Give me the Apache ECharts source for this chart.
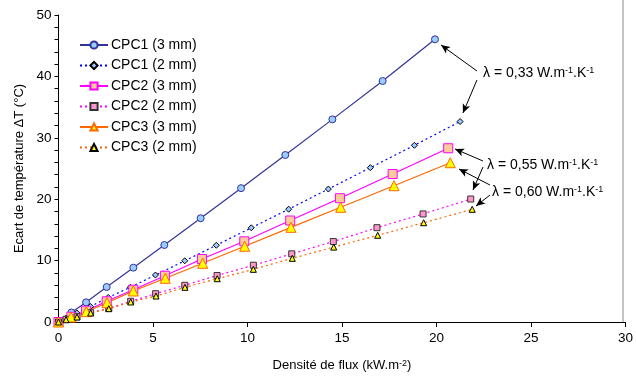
<!DOCTYPE html>
<html>
<head>
<meta charset="utf-8">
<script src="https://cdn.jsdelivr.net/npm/echarts@6/dist/echarts.min.js"></script>
<style>
  html, body { margin: 0; padding: 0; background: #fff; }
  #chart { width: 636px; height: 378px; }
</style>
</head>
<body>
<div id="chart"></div>
<script>
// flux density (kW.m-2) and temperature difference (°C)
const cpc1_3mm_x = [0, 0.68, 1.46, 2.55, 3.96, 5.6, 7.52, 9.66, 12.0, 14.49, 17.15, 19.92];
const cpc1_3mm_y = [0, 1.55, 3.2, 5.7, 8.85, 12.54, 16.9, 21.8, 27.2, 33.0, 39.25, 46.04];
const cpc1_2mm_x = [0, 0.41, 0.97, 1.69, 2.63, 3.8, 5.13, 6.68, 8.35, 10.2, 12.18, 14.28, 16.5, 18.83, 21.25];
const cpc1_2mm_y = [0, 0.65, 1.47, 2.52, 4.0, 5.65, 7.65, 9.97, 12.5, 15.34, 18.37, 21.66, 25.13, 28.78, 32.65];
const cpc2_3mm_x = [0, 0.68, 1.46, 2.55, 3.96, 5.63, 7.59, 9.83, 12.26, 14.89, 17.68, 20.62];
const cpc2_3mm_y = [0, 0.86, 1.84, 3.37, 5.26, 7.54, 10.26, 13.14, 16.53, 20.16, 24.1, 28.3];
const cpc2_2mm_x = [0, 0.4, 0.98, 1.7, 2.66, 3.82, 5.14, 6.68, 8.39, 10.31, 12.34, 14.54, 16.85, 19.29, 21.81];
const cpc2_2mm_y = [0, 0.44, 0.86, 1.51, 2.23, 3.37, 4.61, 5.98, 7.57, 9.25, 11.1, 13.1, 15.36, 17.6, 20.03];
const cpc3_3mm_x = [0, 0.66, 1.47, 2.57, 3.96, 5.65, 7.63, 9.85, 12.3, 14.93, 17.75, 20.73];
const cpc3_3mm_y = [0, 0.81, 1.68, 3.14, 5.05, 7.12, 9.56, 12.33, 15.42, 18.68, 22.2, 25.94];
const cpc3_2mm_x = [0, 0.4, 0.98, 1.7, 2.66, 3.82, 5.16, 6.69, 8.4, 10.31, 12.37, 14.56, 16.89, 19.32, 21.89];
const cpc3_2mm_y = [0, 0.37, 0.81, 1.47, 2.17, 3.26, 4.23, 5.65, 7.05, 8.58, 10.37, 12.2, 14.12, 16.17, 18.35];

const seriesNames = ['CPC1 (3 mm)', 'CPC1 (2 mm)', 'CPC2 (3 mm)', 'CPC2 (2 mm)', 'CPC3 (3 mm)', 'CPC3 (2 mm)'];

// annotation arrows, in data units: [from, to]
const arrows = [
  [[22.14, 40.88], [20.24, 45.11]],
  [[22.14, 39.41], [21.4, 34.04]],
  [[22.46, 26.22], [20.98, 28.18]],
  [[22.46, 25.24], [21.93, 21.5]],
  [[22.83, 22.31], [21.19, 24.92]],
  [[22.83, 20.68], [22.09, 18.89]]
];
const lambdaLabels = ['0,33', '0,55', '0,60'];

const FONT = 'Liberation Sans, Arial, sans-serif';

function pts(xs, ys) {
  return xs.map((x, i) => [x, ys[i]]);
}

function lambdaText(v) {
  return {
    text: 'λ = ' + v + ' W.m{s|-1}.K{s|-1}',
    fontSize: 14,
    fontFamily: FONT,
    fill: '#000',
    rich: { s: { fontSize: 9, lineHeight: 9, verticalAlign: 'top', fill: '#000', fontFamily: FONT } }
  };
}

function lineSeries(name, xs, ys, color, dash, symbol, size, fill, border) {
  return {
    name: name,
    type: 'line',
    data: pts(xs, ys),
    symbol: symbol,
    symbolSize: size,
    showAllSymbol: true,
    lineStyle: { color: color, width: 1.2, type: dash },
    itemStyle: { color: fill, borderColor: border, borderWidth: 1 },
    emphasis: { disabled: true },
    z: 3
  };
}

const sup = { fontSize: 9, lineHeight: 9, verticalAlign: 'top', fontFamily: FONT, color: '#000' };

const myChart = echarts.init(document.getElementById('chart'));

myChart.setOption({
  animation: false,
  backgroundColor: '#fff',
  textStyle: { fontFamily: FONT },
  grid: { left: 58.5, right: 10, top: 15, bottom: 56, containLabel: false },
  legend: {
    orient: 'vertical',
    left: 79,
    top: 38,
    padding: 0,
    itemWidth: 28,
    itemHeight: 9,
    itemGap: 6.5,
    data: seriesNames,
    textStyle: { fontSize: 14, color: '#000', fontFamily: FONT, padding: [0, 0, 0, -2] }
  },
  xAxis: {
    type: 'value',
    min: 0, max: 30, interval: 5,
    name: 'Densité de flux (kW.m{s|-2})',
    nameLocation: 'middle',
    nameGap: 37,
    nameTextStyle: { fontSize: 13, color: '#000', fontFamily: FONT, rich: { s: sup } },
    axisLine: { lineStyle: { color: '#000', width: 1 } },
    axisTick: { show: true, length: 5, lineStyle: { color: '#000' } },
    axisLabel: { fontSize: 13.5, color: '#000', margin: 9 },
    splitLine: { show: false }
  },
  yAxis: {
    type: 'value',
    min: 0, max: 50, interval: 10,
    name: 'Ecart de température ΔT (°C)',
    nameLocation: 'middle',
    nameGap: 31,
    nameTextStyle: { fontSize: 13, color: '#000', fontFamily: FONT },
    axisLine: { show: true, lineStyle: { color: '#000', width: 1 } },
    axisTick: { show: true, length: 4, lineStyle: { color: '#000' } },
    minorTick: { show: true, splitNumber: 5, length: 4, lineStyle: { color: '#000' } },
    axisLabel: { fontSize: 13.5, color: '#000', margin: 7 },
    splitLine: { show: false }
  },
  series: [
    lineSeries(seriesNames[0], cpc1_3mm_x, cpc1_3mm_y, '#333399', 'solid', 'circle', 7, '#99CCFF', '#333399'),
    lineSeries(seriesNames[1], cpc1_2mm_x, cpc1_2mm_y, '#0000FF', [2, 3], 'diamond', 6, '#99CCFF', '#000'),
    lineSeries(seriesNames[2], cpc2_3mm_x, cpc2_3mm_y, '#FF00FF', 'solid', 'rect', 9, '#FFCC99', '#FF00FF'),
    lineSeries(seriesNames[3], cpc2_2mm_x, cpc2_2mm_y, '#FF00FF', [2, 3], 'rect', 6, '#FF99CC', '#333'),
    lineSeries(seriesNames[4], cpc3_3mm_x, cpc3_3mm_y, '#FF6600', 'solid', 'triangle', 10, '#FFFF00', '#FF6600'),
    lineSeries(seriesNames[5], cpc3_2mm_x, cpc3_2mm_y, '#FF6600', [2, 3], 'triangle', 6, '#FFFF00', '#000'),
    {
      name: 'annotations',
      type: 'line',
      data: [],
      markLine: {
        silent: true,
        animation: false,
        symbol: ['none', 'arrow'],
        symbolSize: [6, 9],
        lineStyle: { color: '#000', width: 1, type: 'solid' },
        label: { show: false },
        data: arrows.map(a => [{ coord: a[0] }, { coord: a[1] }])
      }
    }
  ],
  graphic: [
    { type: 'line', shape: { x1: 623, y1: 0, x2: 623, y2: 322 }, style: { stroke: '#888', lineWidth: 1 } },
    { type: 'text', left: 483, top: 66, style: lambdaText(lambdaLabels[0]) },
    { type: 'text', left: 487, top: 158, style: lambdaText(lambdaLabels[1]) },
    { type: 'text', left: 492, top: 185, style: lambdaText(lambdaLabels[2]) }
  ]
});
</script>
</body>
</html>
